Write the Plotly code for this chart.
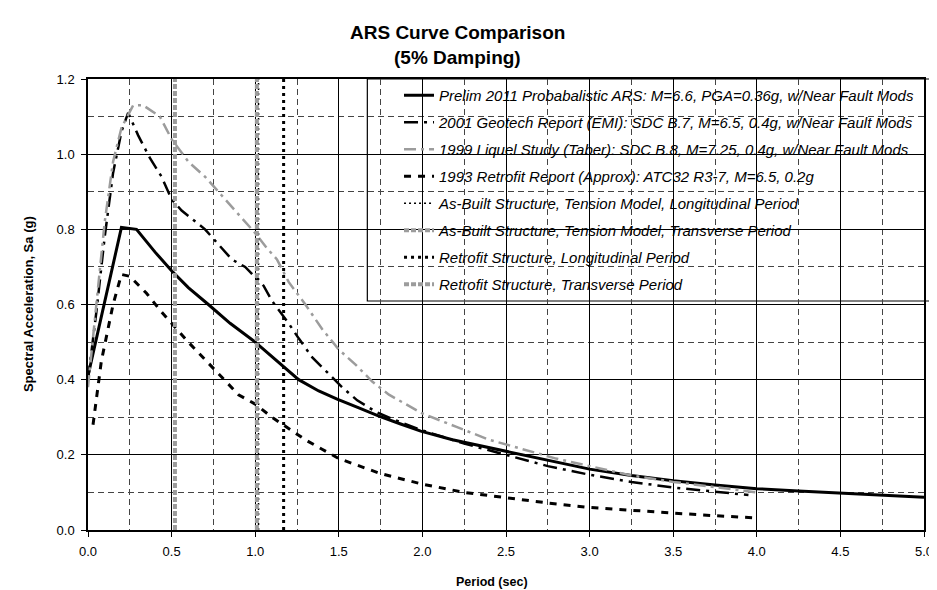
import plotly.graph_objects as go

# ---- data ----
prelim_T = [0.0, 0.2, 0.29, 0.4, 0.5, 0.6, 0.72, 0.85, 1.0, 1.13, 1.26, 1.38, 1.49, 1.62,
            1.74, 1.87, 1.99, 2.18, 2.5, 2.75, 3.0, 3.25, 3.5, 3.75, 4.0, 4.25, 4.5, 4.75, 5.0]
prelim_Sa = [0.41, 0.805, 0.80, 0.74, 0.69, 0.645, 0.60, 0.55, 0.50, 0.45, 0.40, 0.37, 0.348, 0.325,
             0.303, 0.282, 0.263, 0.24, 0.21, 0.185, 0.162, 0.145, 0.131, 0.12, 0.11, 0.104, 0.099, 0.093, 0.087]

geo2001_T = [0.0, 0.05, 0.1, 0.15, 0.2, 0.24, 0.3, 0.37, 0.44, 0.5, 0.56, 0.7, 0.76, 0.86, 0.94,
             1.05, 1.1, 1.2, 1.26, 1.34, 1.43, 1.52, 1.61, 1.72, 1.82, 2.0, 2.25, 2.5, 2.75,
             3.0, 3.25, 3.5, 3.75, 3.95]
geo2001_Sa = [0.40, 0.58, 0.78, 0.95, 1.06, 1.11, 1.05, 0.99, 0.94, 0.88, 0.85, 0.80, 0.77, 0.72, 0.70,
              0.65, 0.61, 0.55, 0.51, 0.46, 0.42, 0.38, 0.345, 0.315, 0.295, 0.265, 0.23, 0.20, 0.17,
              0.147, 0.128, 0.113, 0.102, 0.093]

liq1999_T = [0.0, 0.05, 0.1, 0.15, 0.2, 0.27, 0.33, 0.43, 0.5, 0.6, 0.7, 0.8, 0.9, 1.0, 1.07,
             1.13, 1.2, 1.3, 1.4, 1.5, 1.6, 1.7, 1.8, 1.9, 2.0, 2.2, 2.4, 2.6, 2.8, 3.0,
             3.25, 3.5, 3.75, 4.0]
liq1999_Sa = [0.38, 0.60, 0.82, 0.98, 1.07, 1.13, 1.13, 1.10, 1.04, 0.98, 0.94, 0.89, 0.84, 0.79, 0.75,
              0.72, 0.66, 0.60, 0.535, 0.48, 0.44, 0.395, 0.36, 0.335, 0.31, 0.275, 0.24, 0.215, 0.19, 0.17,
              0.145, 0.128, 0.113, 0.10]

ret1993_T = [0.03, 0.08, 0.15, 0.2, 0.25, 0.35, 0.44, 0.5, 0.6, 0.75, 0.9, 1.0, 1.1, 1.2, 1.3,
             1.4, 1.5, 1.75, 2.0, 2.25, 2.5, 2.75, 3.0, 3.25, 3.5, 3.75, 4.0]
ret1993_Sa = [0.28, 0.45, 0.60, 0.68, 0.675, 0.63, 0.58, 0.55, 0.50, 0.43, 0.36, 0.335, 0.30, 0.27, 0.24,
              0.215, 0.19, 0.15, 0.122, 0.10, 0.085, 0.072, 0.06, 0.052, 0.045, 0.038, 0.032]

period_asbuilt_long = 1.02
period_asbuilt_trans = 0.52
period_retrofit_long = 1.17
period_retrofit_trans = 1.01

names = [
    "Prelim 2011 Probabalistic ARS: M=6.6, PGA=0.36g, w/Near Fault Mods",
    "2001 Geotech Report (EMI): SDC B.7, M=6.5, 0.4g, w/Near Fault Mods",
    "1999 Liquel Study (Taber): SDC B.8, M=7.25, 0.4g, w/Near Fault Mods",
    "1993 Retrofit Report (Approx): ATC32 R3-7, M=6.5, 0.2g",
    "As-Built Structure, Tension Model, Longitudinal Period",
    "As-Built Structure, Tension Model, Transverse Period",
    "Retrofit Structure, Longitudinal Period",
    "Retrofit Structure, Transverse Period",
]

title_lines = ["ARS Curve Comparison", "(5% Damping)"]
x_title = "Period (sec)"
y_title = "Spectral Acceleration, Sa (g)"

y_range = [0.0, 1.2]
x_ticks = [0.0, 0.5, 1.0, 1.5, 2.0, 2.5, 3.0, 3.5, 4.0, 4.5, 5.0]
y_ticks = [0.0, 0.2, 0.4, 0.6, 0.8, 1.0, 1.2]

FONT = "Liberation Sans, Arial, sans-serif"
GRAY = "#9c9c9c"

# layout geometry (pixels)
W, H = 937, 590
ML, MR, MT, MB = 80, 13, 71, 68
PW, PH = W - ML - MR, H - MT - MB


def px_x(p):
    return (p - ML) / PW


def px_y(p):
    return (H - MB - p) / PH


fig = go.Figure()
fig.add_trace(go.Scatter(x=prelim_T, y=prelim_Sa, mode="lines", name=names[0], legendgroup="g0",
                         line=dict(color="black", width=3)))
fig.add_trace(go.Scatter(x=geo2001_T, y=geo2001_Sa, mode="lines", name=names[1], legendgroup="g1",
                         line=dict(color="black", width=2.5, dash="14px,6px,3px,6px")))
fig.add_trace(go.Scatter(x=liq1999_T, y=liq1999_Sa, mode="lines", name=names[2], legendgroup="g2",
                         line=dict(color=GRAY, width=2.5, dash="12px,5px,3px,5px")))
fig.add_trace(go.Scatter(x=ret1993_T, y=ret1993_Sa, mode="lines", name=names[3], legendgroup="g3",
                         line=dict(color="black", width=3, dash="7px,7px")))
fig.add_trace(go.Scatter(x=[period_asbuilt_long] * 2, y=y_range, mode="lines", name=names[4],
                         legendgroup="g4", line=dict(color="black", width=1.5, dash="2px,3px")))
fig.add_trace(go.Scatter(x=[period_asbuilt_trans] * 2, y=y_range, mode="lines", name=names[5],
                         legendgroup="g5", line=dict(color=GRAY, width=4, dash="5px,2px")))
fig.add_trace(go.Scatter(x=[period_retrofit_long] * 2, y=y_range, mode="lines", name=names[6],
                         legendgroup="g6", line=dict(color="black", width=3, dash="3px,4px")))
fig.add_trace(go.Scatter(x=[period_retrofit_trans] * 2, y=y_range, mode="lines", name=names[7],
                         legendgroup="g7", line=dict(color=GRAY, width=4, dash="5px,2px")))

annotations = [
    dict(text="<b>%s</b>" % title_lines[0], x=px_x(453), y=px_y(25), xref="paper", yref="paper",
         xanchor="center", yanchor="middle", showarrow=False, font=dict(size=19, family=FONT)),
    dict(text="<b>%s</b>" % title_lines[1], x=px_x(453), y=px_y(50), xref="paper", yref="paper",
         xanchor="center", yanchor="middle", showarrow=False, font=dict(size=19, family=FONT)),
    dict(text="<b>%s</b>" % x_title, x=px_x(488), y=px_y(574), xref="paper", yref="paper",
         xanchor="center", yanchor="middle", showarrow=False, font=dict(size=12.5, family=FONT)),
    dict(text="<b>%s</b>" % y_title, x=px_x(20), y=0.5, xref="paper", yref="paper", textangle=-90,
         xanchor="center", yanchor="middle", showarrow=False, font=dict(size=13, family=FONT)),
]

shapes = [
    dict(type="rect", xref="paper", yref="paper", x0=px_x(362), x1=px_x(936), y0=px_y(293), y1=1.0,
         fillcolor="white", line=dict(color="black", width=1.2), layer="between"),
]

fig.update_layout(
    width=W, height=H,
    margin=dict(l=ML, r=MR, t=MT, b=MB),
    paper_bgcolor="white", plot_bgcolor="white",
    font=dict(family=FONT, color="black", size=13),
    showlegend=True,
    legend=dict(x=px_x(394), xanchor="left", y=1.0, yanchor="top",
                bgcolor="rgba(0,0,0,0)", borderwidth=0,
                font=dict(size=15, family=FONT, style="italic"),
                tracegroupgap=4.5, itemwidth=30),
    annotations=annotations,
    shapes=shapes,
)
fig.update_xaxes(range=[0, 5], tickvals=x_ticks, tickformat=".1f",
                 showline=True, mirror=True, linecolor="black", linewidth=1.5,
                 ticks="outside", ticklen=5, tickcolor="black", ticklabelstandoff=4,
                 showgrid=True, gridcolor="black", gridwidth=1,
                 minor=dict(dtick=0.25, showgrid=True, gridcolor="#444", griddash="6px,4px", gridwidth=1),
                 zeroline=False, tickfont=dict(size=13))
fig.update_yaxes(range=[0, 1.2], tickvals=y_ticks, tickformat=".1f",
                 showline=True, mirror=True, linecolor="black", linewidth=1.5,
                 ticks="outside", ticklen=5, tickcolor="black", ticklabelstandoff=4,
                 showgrid=True, gridcolor="black", gridwidth=1,
                 minor=dict(dtick=0.1, showgrid=True, gridcolor="#444", griddash="6px,4px", gridwidth=1),
                 zeroline=False, tickfont=dict(size=13))

fig.write_html("out.html")
